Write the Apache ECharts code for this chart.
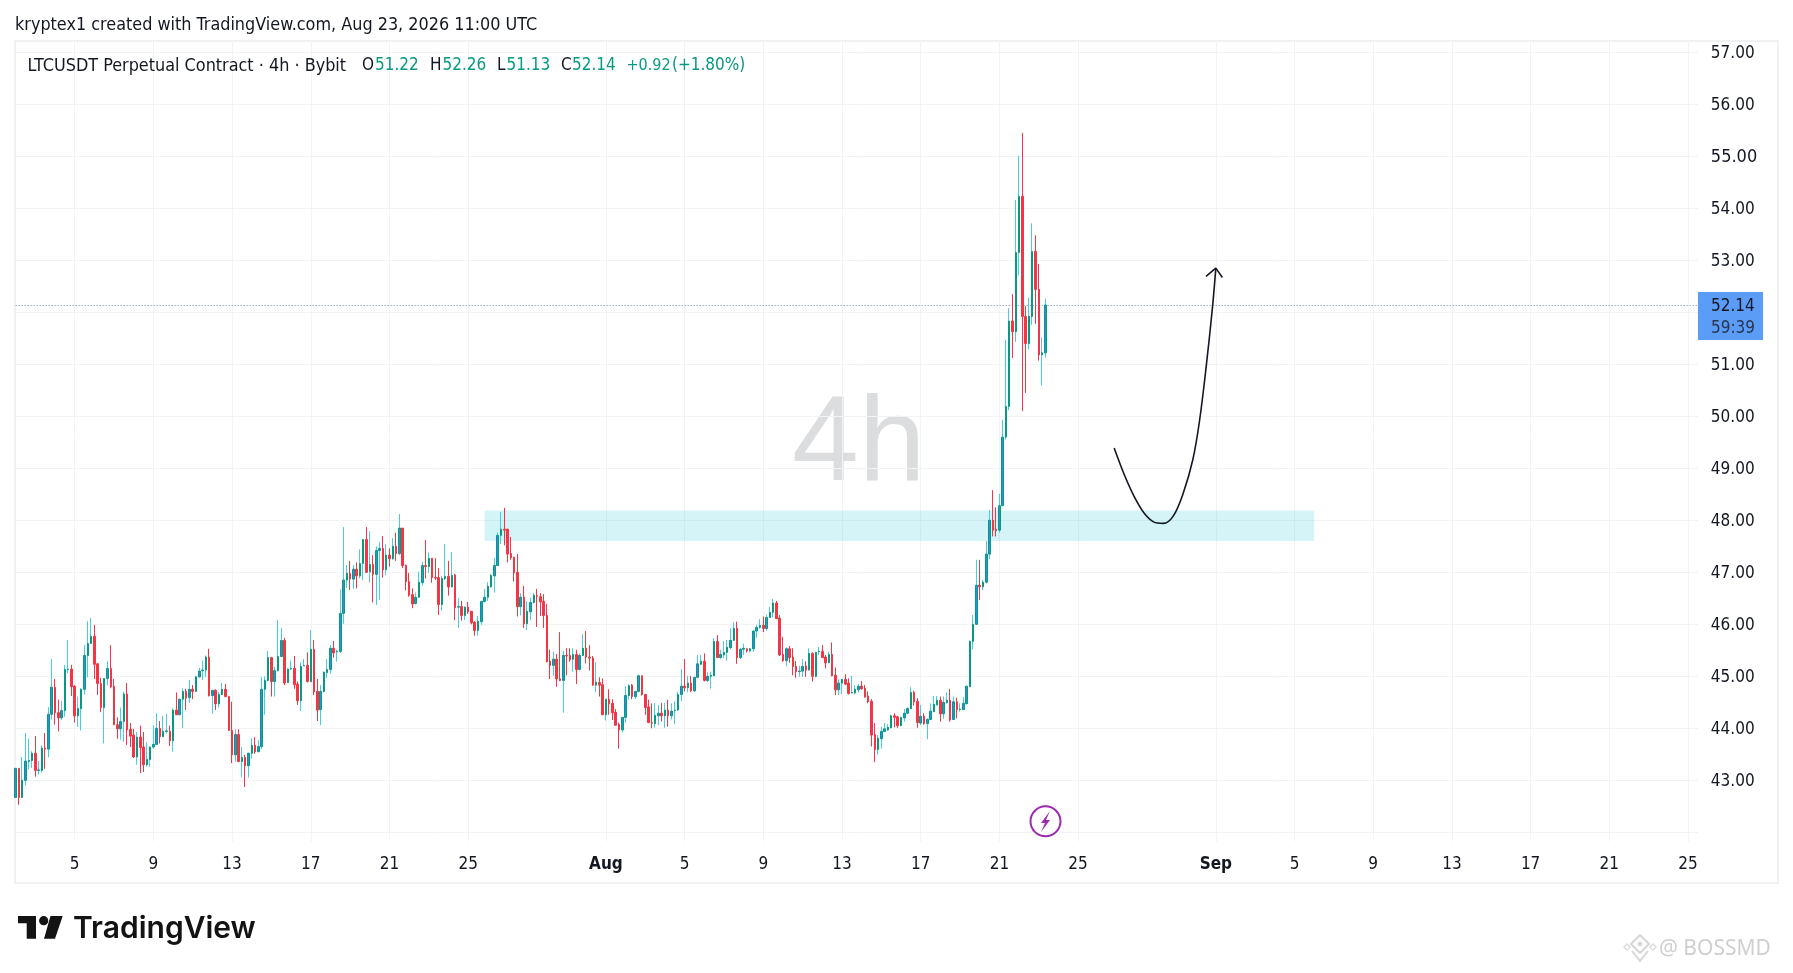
<!DOCTYPE html>
<html><head><meta charset="utf-8">
<style>html,body{margin:0;padding:0;background:#fff}#c{width:1793px;height:973px}</style>
<script src="https://cdn.jsdelivr.net/npm/echarts@6/dist/echarts.min.js"></script></head>
<body><div id="c"></div>
<script>
const opens=[42.67,43.23,42.67,43.00,43.36,43.38,43.52,43.19,43.19,43.62,
43.60,44.27,44.79,44.30,44.20,44.34,45.13,45.14,44.81,44.24,
44.38,44.75,45.40,45.63,45.77,45.24,44.86,44.40,44.96,45.15,
44.81,44.07,43.99,44.13,44.66,43.98,43.87,43.45,43.83,43.64,
43.30,43.40,43.64,43.69,44.00,43.84,43.94,43.94,43.76,44.35,
44.26,44.56,44.71,44.59,44.75,44.71,44.99,45.11,45.12,45.37,
44.63,44.73,44.47,44.65,44.75,44.61,43.96,43.49,43.88,43.36,
43.44,43.28,43.52,43.67,43.55,43.65,44.75,44.92,45.36,44.90,
45.11,45.38,45.69,44.88,45.14,45.15,44.85,44.53,45.20,45.21,
44.90,45.52,44.71,44.36,44.71,45.07,45.13,45.54,45.47,45.48,
46.21,46.85,46.98,46.87,47.06,46.93,47.17,47.63,47.01,47.15,
46.96,47.42,47.46,47.05,47.33,47.26,47.50,47.36,47.85,47.13,
46.82,46.57,46.40,46.52,46.80,47.13,47.11,47.27,46.90,46.90,
46.38,46.88,46.92,46.72,46.95,46.33,46.34,46.17,46.33,46.25,
46.04,45.88,46.05,46.44,46.52,46.72,46.93,47.13,47.71,47.83,
47.83,47.36,47.29,47.00,46.34,46.52,46.01,46.24,46.42,46.55,
46.53,46.44,46.17,45.29,45.21,45.33,44.95,44.92,45.40,45.40,
45.33,45.42,45.13,45.40,45.54,45.37,45.35,44.83,44.88,44.84,
44.26,44.56,44.48,44.31,44.07,43.97,44.21,44.63,44.83,44.61,
44.71,45.01,44.65,44.41,44.11,44.09,44.24,44.29,44.24,44.35,
44.24,44.34,44.35,44.65,44.81,44.78,44.87,44.72,44.98,45.23,
45.29,44.92,45.00,45.01,45.67,45.36,45.41,45.46,45.55,45.69,
45.92,45.36,45.52,45.53,45.49,45.53,45.87,45.94,45.98,45.92,
46.13,46.23,46.41,46.12,45.42,45.30,45.53,45.37,45.19,45.09,
45.10,45.20,45.12,45.44,45.00,45.47,45.48,45.37,45.26,45.42,
45.02,44.74,44.87,44.94,44.87,44.68,44.68,44.74,44.81,44.77,
44.62,44.52,43.88,43.59,43.80,43.94,43.97,44.01,44.24,44.22,
44.05,44.20,44.29,44.38,44.69,44.52,44.10,44.23,44.09,44.17,
44.32,44.45,44.54,44.28,44.49,44.54,44.17,44.51,44.36,44.36,
44.47,44.80,45.67,46.00,46.75,46.72,46.81,47.35,48.00,47.83,
47.81,48.28,49.60,50.19,51.83,51.63,53.15,54.23,51.92,51.40,
51.92,53.17,52.44,51.18,51.22];
const highs=[43.31,43.23,43.45,43.91,43.80,43.56,43.85,43.37,43.67,43.91,
44.41,45.33,44.95,44.55,44.53,45.22,45.70,45.22,44.83,44.61,
44.77,45.60,46.06,46.12,45.99,45.25,44.97,44.96,45.29,45.60,
44.95,44.21,44.40,44.70,44.87,44.10,43.99,43.93,44.05,43.93,
43.73,43.65,44.06,44.29,44.14,44.24,44.28,44.05,44.38,44.69,
44.56,44.77,44.76,44.93,44.83,45.01,45.16,45.30,45.40,45.53,
44.74,44.75,44.70,44.87,44.85,44.61,44.51,43.98,43.98,43.64,
43.49,43.53,43.81,43.83,43.77,44.99,45.00,45.49,45.37,45.18,
46.08,45.93,45.74,45.15,45.30,45.39,44.90,45.27,45.33,45.46,
45.89,45.70,44.95,44.83,45.09,45.33,45.60,45.68,45.51,46.67,
47.87,47.14,47.22,47.14,47.19,47.44,47.64,47.87,47.79,47.33,
47.50,47.58,47.70,47.54,47.46,47.66,47.76,48.12,47.85,47.15,
46.99,46.69,46.61,47.01,47.20,47.62,47.38,47.27,47.27,47.08,
46.93,47.54,47.22,47.39,46.97,46.50,46.45,46.34,46.43,46.25,
46.06,46.16,46.45,46.68,46.81,46.97,47.28,47.77,48.16,48.24,
47.83,47.68,47.30,47.35,46.60,46.74,46.44,46.51,46.60,46.68,
46.60,46.58,46.39,45.51,45.47,45.43,45.85,45.49,45.54,45.54,
45.54,45.51,45.44,45.81,45.87,45.60,45.39,45.27,44.98,44.96,
44.56,44.75,44.56,44.37,44.11,44.22,44.81,44.85,44.85,44.72,
45.03,45.01,44.65,44.55,44.48,44.49,44.45,44.49,44.49,44.55,
44.48,44.52,44.70,45.14,45.33,45.01,45.01,44.99,45.41,45.41,
45.44,45.08,45.09,45.73,45.79,45.51,45.68,45.70,45.92,46.04,
46.05,45.54,45.63,45.53,45.54,45.89,45.99,46.10,46.15,46.18,
46.34,46.49,46.45,46.18,45.76,45.56,45.58,45.54,45.29,45.20,
45.33,45.29,45.54,45.46,45.47,45.57,45.60,45.41,45.47,45.65,
45.17,44.94,44.95,45.04,44.96,45.01,44.83,44.85,44.91,44.83,
44.71,44.56,44.10,43.87,44.03,44.10,44.08,44.26,44.29,44.24,
44.22,44.37,44.40,44.79,44.72,44.58,44.45,44.29,44.19,44.48,
44.62,44.62,44.61,44.61,44.69,44.76,44.61,44.59,44.48,44.60,
44.82,45.69,46.18,47.24,47.24,46.85,47.60,48.20,48.58,48.25,
48.51,49.93,51.47,52.08,52.35,54.16,55.01,55.45,52.12,52.28,
53.71,53.48,52.93,51.52,52.26];
const lows=[42.40,42.53,42.67,42.90,43.21,43.24,43.07,43.11,43.15,43.22,
43.44,44.17,44.07,43.94,44.16,44.22,45.06,44.62,44.11,44.03,
43.96,44.65,44.98,45.62,44.95,44.64,44.31,43.71,44.83,44.77,
44.06,43.80,43.78,43.74,43.68,43.64,43.43,43.30,43.14,43.16,
43.26,43.26,43.61,43.68,43.71,43.83,43.90,43.66,43.55,44.26,
44.26,44.01,44.35,44.49,44.56,44.70,44.97,44.93,44.99,44.61,
44.28,44.35,44.40,44.64,44.60,43.95,43.33,43.36,43.35,43.06,
42.87,43.05,43.42,43.51,43.54,43.60,44.26,44.90,44.61,44.61,
45.09,45.37,44.83,44.87,45.12,44.76,44.45,44.33,45.20,44.88,
44.88,44.64,44.14,44.06,44.69,44.97,45.05,45.36,45.28,45.45,
46.01,46.70,46.66,46.68,46.69,46.88,46.85,46.99,46.80,46.42,
46.37,46.47,46.90,46.95,47.11,47.24,47.22,47.33,47.08,46.65,
46.53,46.31,46.38,46.51,46.74,46.88,46.99,46.80,46.85,46.18,
46.26,46.85,46.55,46.71,46.08,45.93,46.07,46.08,46.20,46.00,
45.78,45.78,45.99,46.42,46.45,46.71,46.61,47.13,47.54,47.52,
47.19,47.24,46.82,46.15,46.17,45.93,45.89,46.08,46.40,45.95,
46.16,45.93,45.27,44.95,45.01,44.80,44.91,44.30,45.02,45.28,
45.09,44.85,45.11,45.39,45.25,45.11,44.82,44.70,44.61,44.26,
44.15,44.26,44.16,44.05,43.61,43.92,44.11,44.55,44.56,44.56,
44.69,44.63,44.26,44.10,44.00,44.01,44.06,44.13,44.01,44.03,
44.17,44.08,44.34,44.52,44.71,44.69,44.70,44.70,44.96,45.22,
44.90,44.89,44.76,45.00,45.35,45.34,45.35,45.30,45.52,45.69,
45.24,45.33,45.41,45.46,45.46,45.47,45.74,45.92,45.85,45.88,
46.12,46.13,46.10,45.39,45.28,45.19,45.26,45.02,44.97,44.99,
44.99,44.99,45.11,44.90,44.98,45.41,45.35,45.15,45.25,45.00,
44.64,44.64,44.66,44.83,44.65,44.67,44.65,44.69,44.74,44.59,
44.48,43.65,43.35,43.49,43.61,43.93,43.95,44.00,44.02,44.01,
44.04,44.13,44.28,44.37,44.44,44.01,44.06,44.07,43.79,44.16,
44.31,44.44,44.13,44.18,44.48,44.13,44.16,44.19,44.32,44.35,
44.47,44.79,45.52,45.99,46.47,46.66,46.79,47.25,47.69,47.69,
47.76,48.28,49.55,50.12,51.12,51.43,52.71,50.10,50.45,51.29,
51.76,51.78,51.07,50.59,51.13];
const closes=[43.23,42.67,43.00,43.37,43.38,43.52,43.19,43.20,43.62,43.60,
44.27,44.79,44.30,44.20,44.34,45.13,45.14,44.80,44.24,44.38,
44.75,45.40,45.63,45.77,45.23,44.86,44.40,44.96,45.15,44.80,
44.07,43.99,44.13,44.66,43.97,43.85,43.45,43.83,43.63,43.30,
43.40,43.64,43.69,44.00,43.84,43.94,43.95,43.76,44.35,44.26,
44.56,44.71,44.58,44.75,44.71,44.99,45.10,45.12,45.37,44.63,
44.73,44.47,44.65,44.75,44.61,43.96,43.49,43.88,43.36,43.44,
43.28,43.52,43.67,43.55,43.65,44.75,44.92,45.36,44.90,45.11,
45.38,45.69,44.87,45.14,45.15,44.84,44.53,45.19,45.21,44.90,
45.52,44.70,44.35,44.71,45.08,45.13,45.54,45.45,45.48,46.21,
46.85,46.98,46.87,47.06,46.93,47.17,47.63,47.00,47.15,46.96,
47.42,47.46,47.05,47.33,47.26,47.50,47.36,47.85,47.13,46.82,
46.56,46.39,46.52,46.81,47.13,47.11,47.27,46.90,46.89,46.38,
46.88,46.92,46.72,46.94,46.32,46.34,46.17,46.33,46.24,46.03,
45.88,46.06,46.44,46.52,46.73,46.94,47.13,47.71,47.83,47.81,
47.35,47.28,46.99,46.34,46.52,46.01,46.25,46.42,46.56,46.54,
46.43,46.17,45.28,45.21,45.33,44.95,44.92,45.40,45.39,45.32,
45.42,45.13,45.40,45.54,45.37,45.35,44.83,44.89,44.83,44.26,
44.56,44.47,44.30,44.06,43.97,44.21,44.63,44.82,44.61,44.71,
45.01,44.65,44.40,44.11,44.10,44.25,44.29,44.24,44.35,44.24,
44.33,44.35,44.65,44.81,44.78,44.87,44.72,44.98,45.24,45.29,
44.92,45.00,45.02,45.67,45.36,45.42,45.46,45.56,45.69,45.92,
45.36,45.52,45.54,45.49,45.53,45.87,45.94,45.98,45.92,46.13,
46.23,46.41,46.11,45.41,45.30,45.53,45.36,45.19,45.09,45.10,
45.19,45.12,45.44,45.00,45.46,45.48,45.36,45.26,45.42,45.01,
44.74,44.87,44.94,44.85,44.67,44.69,44.75,44.81,44.76,44.60,
44.51,43.87,43.59,43.81,43.94,43.99,44.02,44.24,44.21,44.05,
44.21,44.29,44.38,44.69,44.51,44.11,44.23,44.09,44.17,44.33,
44.46,44.54,44.28,44.50,44.54,44.16,44.51,44.36,44.37,44.48,
44.81,45.67,46.00,46.75,46.72,46.81,47.35,48.00,47.81,47.80,
48.28,49.60,50.19,51.83,51.63,53.15,54.23,51.92,51.40,51.92,
53.17,52.44,51.18,51.22,52.14];

const xTickDates=['2026-07-05','2026-07-09','2026-07-13','2026-07-17','2026-07-21','2026-07-25','2026-08-01','2026-08-05','2026-08-09','2026-08-13','2026-08-17','2026-08-21','2026-08-25','2026-09-01','2026-09-05','2026-09-09','2026-09-13','2026-09-17','2026-09-21','2026-09-25'];
const xTickLabels=['5','9','13','17','21','25','Aug','5','9','13','17','21','25','Sep','5','9','13','17','21','25'];
const lastPrice=52.14;
const zoneTop=48.19, zoneBottom=47.60, zoneStartBar=143, zoneEndBar=396;
const curveBars=[335,338,341,344,347,350,353,356,359,361,363,365,366];
const curvePrices=[49.39,48.89,48.47,48.15,47.97,47.94,48.08,48.51,49.17,49.90,50.92,52.11,52.85];
const arrowBars=[363,366,368];
const arrowPrices=[52.69,52.85,52.67];

// 4h bar slots from 2 Jul 00:00 UTC through 25 Sep and a little beyond
const categories=[];
const t0=Date.UTC(2026,6,2,0);
for(let i=0;i<=513;i++){const d=new Date(t0+i*4*3600e3);categories.push(d.toISOString().slice(0,13));}
const tickMap={};
xTickDates.forEach((d,i)=>{tickMap[d+'T00']=xTickLabels[i];});
const isTick=(idx,val)=>val in tickMap;

const wickData=opens.map((o,i)=>[o,closes[i],lows[i],highs[i]]);
const bodyData=opens.map((o,i)=>[o,closes[i],Math.min(o,closes[i]),Math.max(o,closes[i])]);

const FONT='"DejaVu Sans Condensed","DejaVu Sans"';
const SIZE=17;
const txt=(x,y,s,fill,size,extra)=>({type:'text',x,y,silent:true,z:50,style:Object.assign({text:s,fill,font:`${size||SIZE}px ${FONT}`,textVerticalAlign:'middle'},extra||{})});
const TEAL='#089981',RED='#f23645',CYAN='#45cfe0',BLUE='#2f8fdc',GRID='#f2f3f5',INK='#131722';

const graphics=[
 {type:'rect',shape:{x:15,y:41,width:1763,height:842},style:{fill:'none',stroke:'#f0f1f3',lineWidth:2},silent:true,z:-1},
 {type:'text',x:792,y:507,silent:true,z:0,style:{text:'4h',fill:'#dcddde',font:'120px "Liberation Sans"',textVerticalAlign:'bottom'}},
 txt(15,25,'kryptex1 created with TradingView.com, Aug 23, 2026 11:00 UTC',INK,17.85),
 txt(27.5,66,'LTCUSDT Perpetual Contract · 4h · Bybit',INK,17.85),
 txt(362,66,'O',INK),txt(375,66,'51.22',TEAL),
 txt(430,66,'H',INK),txt(442.5,66,'52.26',TEAL),
 txt(497,66,'L',INK),txt(506.5,66,'51.13',TEAL),
 txt(561,66,'C',INK),txt(572,66,'52.14',TEAL),
 txt(626.5,66,'+0.92',TEAL,16),txt(672,66,'(+1.80%)',TEAL),
 {type:'rect',shape:{x:1698,y:292,width:65,height:48},style:{fill:'#5b9cf6'},silent:true,z:40},
 txt(1711,307,'52.14',INK),txt(1711,328.5,'59:39','#2a3550'),
 // flash marker
 {type:'circle',shape:{cx:1045.5,cy:821.3,r:15},style:{fill:'#fff',stroke:'#9c27b0',lineWidth:2},silent:true,z:30},
 {type:'polygon',shape:{points:[[1050,811],[1041,823],[1045,823],[1041,832],[1050,820],[1046,820]]},style:{fill:'#9c27b0'},silent:true,z:31},
 // TradingView logo
 {type:'polygon',shape:{points:[[18,916],[36,916],[36,938.7],[26.7,938.7],[26.7,923.3],[18,923.3]]},style:{fill:'#131313'},silent:true,z:30},
 {type:'circle',shape:{cx:43.7,cy:920.7,r:4.6},style:{fill:'#131313'},silent:true,z:30},
 {type:'polygon',shape:{points:[[50.5,916],[62.7,916],[55,938.7],[44,938.7]]},style:{fill:'#131313'},silent:true,z:30},
 {type:'text',x:73,y:928.5,silent:true,z:30,style:{text:'TradingView',fill:'#131313',font:'600 30px Inter',textVerticalAlign:'middle'}},
 // image watermark
 {type:'polygon',shape:{points:[[1640,935],[1649,944],[1640,953],[1631,944]]},style:{fill:'none',stroke:'#d6d6d6',lineWidth:2},silent:true,z:30},
 {type:'polygon',shape:{points:[[1640,941],[1643,944],[1640,947],[1637,944]]},style:{fill:'#d6d6d6'},silent:true,z:30},
 {type:'polygon',shape:{points:[[1627,944],[1630,947],[1627,950],[1624,947]]},style:{fill:'none',stroke:'#dcdcdc',lineWidth:1.5},silent:true,z:30},
 {type:'polygon',shape:{points:[[1653,944],[1656,947],[1653,950],[1650,947]]},style:{fill:'none',stroke:'#dcdcdc',lineWidth:1.5},silent:true,z:30},
 {type:'polyline',shape:{points:[[1632,951],[1640,961],[1648,951]]},style:{fill:'none',stroke:'#d6d6d6',lineWidth:2},silent:true,z:30},
 {type:'text',x:1659,y:949,silent:true,z:30,style:{text:'@ BOSSMD',fill:'#cfcfcf',font:'21px "Noto Sans"',textVerticalAlign:'middle'}}
];

const chart=echarts.init(document.getElementById('c'),null,{renderer:'canvas'});
chart.setOption({
 animation:false,
 backgroundColor:'#fff',
 grid:{left:15.66,top:41,width:1682.2,height:791.3,containLabel:false},
 xAxis:{type:'category',data:categories,boundaryGap:false,
  axisLine:{show:false},
  axisTick:{show:true,interval:isTick,length:9,lineStyle:{color:GRID,width:1}},
  splitLine:{show:true,interval:isTick,lineStyle:{color:GRID,width:1}},
  axisLabel:{show:true,interval:isTick,margin:24,color:INK,fontFamily:FONT,fontSize:SIZE,
   formatter:v=>{const l=tickMap[v];return /[A-Za-z]/.test(l)?`{b|${l}}`:l;},
   rich:{b:{fontFamily:FONT,fontSize:SIZE,fontWeight:'bold',color:INK}},hideOverlap:false}},
 yAxis:{type:'value',position:'right',min:42,max:57.217,interval:1,scale:false,
  axisLine:{show:false},axisTick:{show:false},
  splitLine:{show:true,lineStyle:{color:GRID,width:1}},
  axisLabel:{show:true,color:INK,fontFamily:FONT,fontSize:SIZE,margin:13,align:'left',padding:[3,0,0,0],
   formatter:v=>(Number.isInteger(v)&&v>42)?(v===55?`{b|${v.toFixed(2)}}`:v.toFixed(2)):'',
   rich:{b:{fontFamily:FONT,fontSize:18,color:INK}}}},
 graphic:graphics,
 series:[
  {name:'wicks',type:'candlestick',data:wickData,barWidth:1,z:3,silent:true,
   itemStyle:{color:CYAN,color0:RED,borderColor:CYAN,borderColor0:RED,borderColorDoji:CYAN,borderWidth:1},
   markLine:{silent:true,symbol:'none',label:{show:false},lineStyle:{color:'#5f86cc',type:[1,2],width:1},data:[{yAxis:lastPrice}],z:1},
   markArea:{silent:true,itemStyle:{color:'rgba(0,188,212,0.17)'},data:[[{xAxis:categories[zoneStartBar],yAxis:zoneTop},{xAxis:categories[zoneEndBar],yAxis:zoneBottom}]],z:1}},
  {name:'bodies',type:'candlestick',data:bodyData,barWidth:2,z:4,silent:true,
   itemStyle:{color:BLUE,color0:RED,borderColor:TEAL,borderColor0:RED,borderColorDoji:TEAL,borderWidth:1}},
  {name:'curve',type:'line',data:curveBars.map((b,i)=>[b,curvePrices[i]]),smooth:0.35,smoothConstraint:false,showSymbol:false,z:6,silent:true,lineStyle:{color:INK,width:1.6}},
  {name:'arrow',type:'line',data:arrowBars.map((b,i)=>[b,arrowPrices[i]]),showSymbol:false,z:6,silent:true,lineStyle:{color:INK,width:1.6}}
 ]
});
</script></body></html>
